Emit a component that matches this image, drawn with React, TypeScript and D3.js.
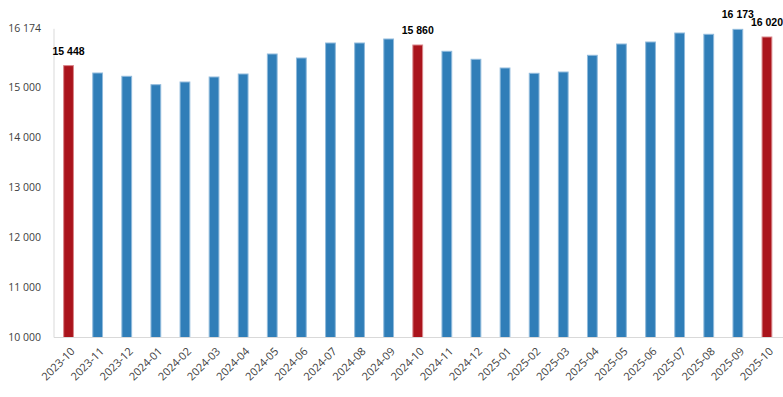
import React, { useEffect, useRef } from "react";
import * as d3 from "d3";

const months = [
  "2023-10", "2023-11", "2023-12", "2024-01", "2024-02", "2024-03", "2024-04",
  "2024-05", "2024-06", "2024-07", "2024-08", "2024-09", "2024-10", "2024-11",
  "2024-12", "2025-01", "2025-02", "2025-03", "2025-04", "2025-05", "2025-06",
  "2025-07", "2025-08", "2025-09", "2025-10",
];
const values = [
  15448, 15300, 15234, 15066, 15120, 15220, 15280,
  15680, 15600, 15900, 15900, 15980, 15860, 15734,
  15574, 15400, 15294, 15320, 15654, 15880, 15920,
  16100, 16074, 16173, 16020,
];
const highlighted = ["2023-10", "2024-10", "2025-10"];
const labeled = ["2023-10", "2024-10", "2025-09", "2025-10"];
const yTicks = [10000, 11000, 12000, 13000, 14000, 15000, 16174];

const App = () => {
  const svgRef = useRef(null);
  const width = 783;
  const height = 397;

  useEffect(() => {
    const svg = d3.select(svgRef.current);
    svg.selectAll("*").remove();

    const data = months.map((m, i) => ({ month: m, value: values[i] }));

    const marginLeft = 54;
    const marginRight = 1.5;

    const x = d3
      .scaleBand()
      .domain(months)
      .range([marginLeft, width - marginRight])
      .paddingInner(0.63)
      .paddingOuter(0.315);

    const y = d3.scaleLinear().domain([10000, 16174]).range([337.5, 28.8]);

    const fmt = d3.formatLocale({
      decimal: ".",
      thousands: " ",
      grouping: [3],
      currency: ["", ""],
    }).format(",d");

    // axis lines
    svg.append("line")
      .attr("x1", marginLeft).attr("x2", marginLeft)
      .attr("y1", y(16174)).attr("y2", y(10000))
      .attr("stroke", "#d9d9d9");

    // y labels
    svg.append("g")
      .selectAll("text")
      .data(yTicks)
      .join("text")
      .attr("x", 41)
      .attr("y", (d) => y(d))
      .attr("dy", "0.35em")
      .attr("text-anchor", "end")
      .style("font", "10.5px 'Open Sans', sans-serif")
      .attr("fill", "#404040")
      .text((d) => fmt(d));

    // bars
    svg.append("g")
      .selectAll("rect")
      .data(data)
      .join("rect")
      .attr("x", (d) => x(d.month) + 0.5)
      .attr("width", x.bandwidth() - 1)
      .attr("y", (d) => y(d.value) + 0.5)
      .attr("height", (d) => y(10000) - y(d.value) - 0.5)
      .attr("fill", (d) => (highlighted.includes(d.month) ? "#aa141c" : "#307eb8"))
      .attr("stroke", (d) => (highlighted.includes(d.month) ? "#d9868a" : "#8fbadc"))
      .attr("stroke-width", 1);

    svg.append("line")
      .attr("x1", marginLeft).attr("x2", width)
      .attr("y1", y(10000)).attr("y2", y(10000))
      .attr("stroke", "#d9d9d9");

    // value labels
    svg.append("g")
      .selectAll("text")
      .data(data.filter((d) => labeled.includes(d.month)))
      .join("text")
      .attr("x", (d) => x(d.month) + x.bandwidth() / 2)
      .attr("y", (d) => y(d.value) - 10.5)
      .attr("text-anchor", "middle")
      .style("font", "bold 10.5px 'Liberation Sans', Arial, sans-serif")
      .attr("fill", "#000")
      .text((d) => fmt(d.value));

    // x labels
    svg.append("g")
      .selectAll("text")
      .data(months)
      .join("text")
      .attr("transform", (d) => `translate(${x(d) + x.bandwidth() / 2 + 7},${352}) rotate(-45)`)
      .attr("text-anchor", "end")
      .style("font", "11px 'Open Sans', sans-serif")
      .attr("fill", "#404040")
      .text((d) => d);
  }, []);

  return (
    <svg
      ref={svgRef}
      width={width}
      height={height}
      viewBox={`0 0 ${width} ${height}`}
      style={{ position: "absolute", left: 0, top: 0, background: "#fff" }}
    ></svg>
  );
};

export default App;
